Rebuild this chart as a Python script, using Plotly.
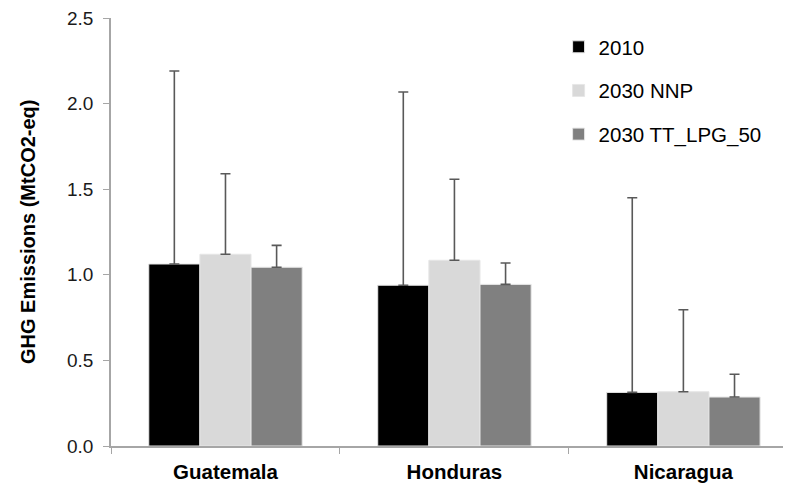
import plotly.graph_objects as go

countries = ["Guatemala", "Honduras", "Nicaragua"]
series_names = ["2010", "2030 NNP", "2030 TT_LPG_50"]
v_2010 = [1.063, 0.939, 0.313]
v_nnp = [1.120, 1.085, 0.317]
v_tt = [1.044, 0.944, 0.286]
e_2010 = [1.127, 1.129, 1.137]
e_nnp = [0.470, 0.473, 0.479]
e_tt = [0.128, 0.125, 0.133]
y_ticks = [0.0, 0.5, 1.0, 1.5, 2.0, 2.5]
y_ticklabels = ["0.0", "0.5", "1.0", "1.5", "2.0", "2.5"]

colors = ["#000000", "#d9d9d9", "#808080"]
values = [v_2010, v_nnp, v_tt]
errors = [e_2010, e_nnp, e_tt]

fig = go.Figure()
for i, name in enumerate(series_names):
    fig.add_trace(go.Bar(
        x=countries, y=values[i], name=name, legendgroup=name,
        marker=dict(color=colors[i], line=dict(color="#e6e6e6", width=1)),
        error_y=dict(type="data", symmetric=False, array=errors[i],
                     arrayminus=[0] * len(countries),
                     color="#595959", thickness=1.6, width=5),
    ))

font_family = "Liberation Sans, Arial, sans-serif"
L = 103
PW = 680
fig.update_layout(
    width=783, height=476,
    margin=dict(l=L, r=0, t=10, b=38, autoexpand=False),
    paper_bgcolor="white", plot_bgcolor="white",
    barmode="group", bargap=0.33, bargroupgap=0.0,
    font=dict(family=font_family, size=19, color="#1a1a1a"),
    showlegend=True,
    legend=dict(x=(550.6 - L) / PW, y=0.979, xanchor="left", yanchor="top",
                font=dict(size=20.5, color="#000000"),
                tracegroupgap=14, itemwidth=30,
                bgcolor="rgba(0,0,0,0)"),
    xaxis=dict(range=[-0.5, 2.47], showline=True, linecolor="#a6a6a6", linewidth=1.5,
               ticks="outside", tickson="boundaries", ticklen=6, tickcolor="#a6a6a6",
               automargin=False, ticklabelstandoff=7, ticklabeloverflow="allow",
               tickfont=dict(size=20.5, family=font_family, color="#000000",
                             weight="bold"),
               showgrid=False, zeroline=False),
    yaxis=dict(range=[0, 2.5], tickvals=y_ticks, ticktext=y_ticklabels,
               showline=True, linecolor="#a6a6a6", linewidth=1.5,
               ticks="outside", ticklen=6, tickcolor="#a6a6a6",
               ticklabelstandoff=6, automargin=False, ticklabeloverflow="allow",
               tickfont=dict(size=19, color="#1a1a1a"),
               showgrid=False, zeroline=False),
    annotations=[dict(text="<b>GHG Emissions (MtCO2-eq)</b>", textangle=-90,
                      xref="paper", yref="paper", x=(20 - L) / PW, y=0.5,
                      xanchor="center", yanchor="middle", showarrow=False,
                      font=dict(size=20, color="#000000", family=font_family))],
)

fig.write_html("out.html")
